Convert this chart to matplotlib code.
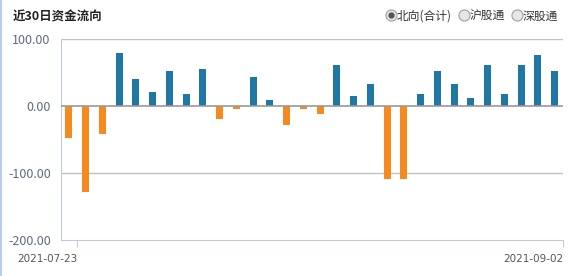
import matplotlib.pyplot as plt
from matplotlib.lines import Line2D
import numpy as np

plt.rcParams['font.family'] = ['Noto Sans CJK SC', 'DejaVu Sans']

# north-bound net flow, last 30 trading days (100 million CNY)
flow = [-47, -128, -41, 80, 41, 22, 52, 18, 55, -19,
        -4, 44, 10, -28, -4, -12, 62, 15, 34, -108,
        -108, 18, 53, 34, 12, 62, 19, 61, 77, 52]
date_labels = ['2021-07-23', '2021-09-02']
y_ticks = [100, 0, -100, -200]
options = ['北向(合计)', '沪股通', '深股通']

W, H = 572, 276
fig = plt.figure(figsize=(W / 100, H / 100), dpi=100)
ax = fig.add_axes([60.5 / W, 1 - 240.3 / H, (563 - 60.5) / W, (240.3 - 39.3) / H])

x = np.arange(len(flow))
colors = ['#1f77a4' if v >= 0 else '#f68a1e' for v in flow]
ax.bar(x, flow, width=0.42, color=colors, zorder=3)

ax.set_xlim(-0.5, len(flow) - 0.5)
ax.set_ylim(-200, 100)
ax.set_yticks(y_ticks)
ax.set_yticklabels(['%.2f' % v for v in y_ticks], color='#606a80', fontsize=9)
for v in [100, -100]:
    ax.axhline(v, color='#c0c0c0', lw=1, zorder=1)
ax.axhline(0, color='#999999', lw=1.2, zorder=4)

for s in ['top', 'right']:
    ax.spines[s].set_visible(False)
ax.spines['left'].set_color('#c0cad8')
ax.spines['bottom'].set_color('#c0cad8')
ax.tick_params(axis='y', length=0, pad=7)
ax.tick_params(axis='x', length=5, color='#c0cad8', pad=5)
ax.set_xticks([0.5, len(flow) - 0.5])
ax.set_xticklabels(date_labels, fontsize=7.5, color='#555555', family='DejaVu Sans')
for lab in ax.get_xticklabels():
    lab.set_horizontalalignment('right')

# title and radio buttons
fig.text(13 / W, 1 - 17 / H, '近30日资金流向', fontsize=9, fontweight='bold',
         va='center', ha='left', color='#222222')
circ_x = [390.7, 464.3, 517]
for i, (cx, name) in enumerate(zip(circ_x, options)):
    fig.add_artist(Line2D([cx / W], [1 - 15 / H], marker='o', markersize=8,
                          mfc='#e6e6e6', mec='#a0a0a0', mew=0.8,
                          transform=fig.transFigure))
    if i == 0:
        fig.add_artist(Line2D([cx / W], [1 - 15 / H], marker='o', markersize=3.5,
                              mfc='#555555', mec='#555555',
                              transform=fig.transFigure))
    fig.text((cx + 5.5) / W, 1 - 16 / H, name, fontsize=8.5, va='center',
             ha='left', color='#333333')

# left border
fig.add_artist(Line2D([0.5 / W, 0.5 / W], [0, 1], color='#a8c4ec', lw=1.2,
                      transform=fig.transFigure))

fig.savefig('out.png', dpi=100)
